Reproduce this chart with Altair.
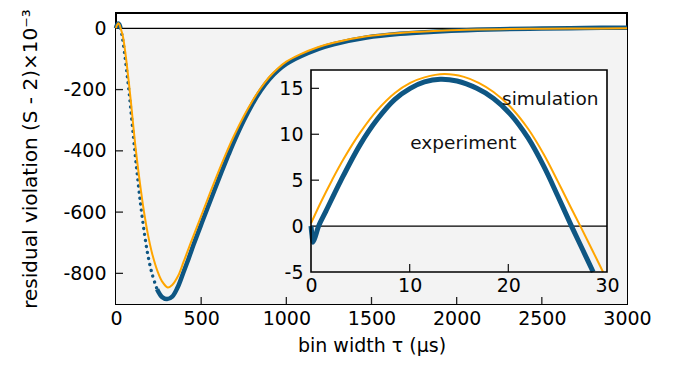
import altair as alt
import pandas as pd

# ---------------- data ----------------
# main panel: bin width tau (us) vs residual violation (x1e-3)
exp_t = [0, 5, 13, 20, 27, 36, 50, 71, 81, 110, 134, 150, 169, 187, 212, 241, 270, 300, 330,
         360, 395, 426, 456, 510, 573, 620, 661, 700, 750, 800, 850, 900, 950, 1000, 1081, 1189, 1277,
         1472, 1668, 1864, 2059, 2255, 2500, 2750, 3000]
exp_v = [0, 9, 16, 12, 0, -25, -80, -180, -232, -398, -525, -600, -678, -740, -802, -852, -877, -884, -876,
         -848, -798, -752, -705, -626, -535, -468, -412, -361, -301, -248, -203, -166, -138, -116, -92, -67, -52,
         -30, -18, -11, -6, -3, -1, 1, 2]

sim_t = [0, 5, 13.5, 20, 27.3, 40, 55, 76, 87, 116, 144, 168, 187, 212, 245, 270, 304, 330, 365, 397,
         437, 510, 554, 600, 642, 690, 750, 800, 850, 900, 950, 1000, 1081, 1189, 1277, 1472, 1668, 1864, 2059,
         2255, 2500, 2750, 3000]
sim_v = [0, 9.5, 16.5, 12.5, 0, -25, -80, -180, -238, -395, -520, -612, -672, -735, -795, -826, -846, -838, -808, -762,
         -703, -598, -535, -470, -414, -354, -287, -238, -195, -159, -131, -109, -85, -61, -47, -26, -15, -9, -5,
         -2.8, -1.2, -0.5, 0]

# inset: 0..30 us
iexp_t = [0, 0.1, 0.2, 0.45, 0.77, 1.5, 3, 5, 6.7, 8.5, 10.06, 11.5, 13.1, 14.8, 16.8, 18.5, 20.2, 22,
          23.6, 25, 26.4, 27.5, 28.6]
iexp_v = [0, -1.0, -1.75, -1.1, 0, 1.6, 4.9, 8.9, 11.6, 13.8, 15.0, 15.7, 16.0, 15.8, 15.0, 13.9, 12.2, 9.6,
          6.5, 3.3, 0, -2.5, -5]
isim_t = [0, 1, 2.13, 3.3, 5, 6.7, 8.5, 10.06, 11.5, 13.5, 15.5, 17, 18.5, 20.2, 22, 23.6, 25, 26.3,
          27.3, 28.5, 29.6]
isim_v = [0.3, 2.6, 5.0, 7.3, 10.2, 12.6, 14.5, 15.6, 16.2, 16.56, 16.25, 15.6, 14.6, 13.0, 10.6, 7.8, 4.9, 2.1,
          0, -2.6, -5]

label_text = ["simulation", "experiment"]
label_x = [24.25, 15.45]
label_y = [13.8, 9.0]

main_x_ticks = [0, 500, 1000, 1500, 2000, 2500, 3000]
main_y_ticks = [-800, -600, -400, -200, 0]
inset_x_ticks = [0, 10, 20, 30]
inset_y_ticks = [-5, 0, 5, 10, 15]

X_DOMAIN = [0, 3000]
Y_DOMAIN = [-900, 50]
IX_DOMAIN = [0, 30]
IY_DOMAIN = [-5, 17]

# ---------------- layout / style ----------------
W, H = 511, 291
IX_RANGE = [195, 491]
IY_RANGE = [259, 57]
FONT = "DejaVu Sans"
FS = 19
BLUE = "#0e5683"
ORANGE = "#ffa500"
GRAY = "#f3f3f3"
LBL = "'' + datum.value"
INTERP = "catmull-rom"

mx = alt.Scale(domain=X_DOMAIN, nice=False, zero=False)
my = alt.Scale(domain=Y_DOMAIN, nice=False, zero=False)
ix = alt.Scale(domain=IX_DOMAIN, range=IX_RANGE, nice=False, zero=False)
iy = alt.Scale(domain=IY_DOMAIN, range=IY_RANGE, nice=False, zero=False)

x_axis = alt.Axis(values=main_x_ticks, title="bin width τ (μs)", labelExpr=LBL, ticks=False, tickSize=0,
                  domain=False, grid=False, labelPadding=5, titlePadding=8, labelFlush=False,
                  labelOverlap=False, orient="bottom")
y_axis = alt.Axis(values=main_y_ticks, title="residual violation (S - 2)×10⁻³", labelExpr=LBL, ticks=False,
                  tickSize=0, domain=False, grid=False, labelPadding=10, titlePadding=22, titleFontSize=20,
                  labelFlush=False, labelOverlap=False, orient="left")
ix_axis = alt.Axis(values=inset_x_ticks, title=None, labelExpr=LBL, ticks=False, tickSize=0, domain=False,
                   grid=False, labelPadding=4, labelFlush=False, labelOverlap=False, orient="bottom",
                   offset=-(H - IY_RANGE[0]), zindex=2)
iy_axis = alt.Axis(values=inset_y_ticks, title=None, labelExpr=LBL, ticks=False, tickSize=0, domain=False,
                   grid=False, labelPadding=8, labelFlush=False, labelOverlap=False, orient="left",
                   offset=-IX_RANGE[0], zindex=2)

exp_df = pd.DataFrame({"t": exp_t, "v": exp_v})
sim_df = pd.DataFrame({"t": sim_t, "v": sim_v})
iexp_df = pd.DataFrame({"t": iexp_t, "v": iexp_v})
isim_df = pd.DataFrame({"t": isim_t, "v": isim_v})
lab_df = pd.DataFrame({"t": label_x, "v": label_y, "s": label_text})

# ---------------- main panel ----------------
bg = alt.Chart(pd.DataFrame({"x0": [X_DOMAIN[0]], "x1": [X_DOMAIN[1]], "y0": [0], "y1": [Y_DOMAIN[0]]})).mark_rect(
    color=GRAY).encode(
    x=alt.X("x0:Q", scale=mx, axis=x_axis), x2="x1:Q",
    y=alt.Y("y0:Q", scale=my, axis=y_axis), y2="y1:Q")

zero = alt.Chart(pd.DataFrame({"y": [0]})).mark_rule(color="black", strokeWidth=1.3).encode(
    y=alt.Y("y:Q", scale=my, axis=y_axis))

xt = alt.Chart(pd.DataFrame({"t": main_x_ticks[1:-1]})).mark_rule(color="#222", strokeWidth=1.3).encode(
    x=alt.X("t:Q", scale=mx, axis=x_axis), y=alt.value(H), y2=alt.value(H - 7))
yt = alt.Chart(pd.DataFrame({"v": main_y_ticks[:-1]})).mark_rule(color="#222", strokeWidth=1.3).encode(
    y=alt.Y("v:Q", scale=my, axis=y_axis), x=alt.value(0), x2=alt.value(7))

exp_solid = alt.Chart(exp_df).transform_filter("datum.t <= 27 || datum.t >= 241").transform_calculate(
    seg="datum.t <= 27 ? 'a' : 'b'").mark_line(color=BLUE, strokeWidth=4.5, interpolate=INTERP).encode(
    x=alt.X("t:Q", scale=mx, axis=x_axis), y=alt.Y("v:Q", scale=my, axis=y_axis), detail="seg:N")
exp_dot = alt.Chart(exp_df).transform_filter("datum.t >= 27 && datum.t <= 241").mark_line(
    color=BLUE, strokeWidth=3.3, strokeCap="round", strokeDash=[0.1, 6.0], interpolate=INTERP).encode(
    x=alt.X("t:Q", scale=mx, axis=x_axis), y=alt.Y("v:Q", scale=my, axis=y_axis))
sim_line = alt.Chart(sim_df).mark_line(color=ORANGE, strokeWidth=2, interpolate=INTERP).encode(
    x=alt.X("t:Q", scale=mx, axis=x_axis), y=alt.Y("v:Q", scale=my, axis=y_axis))

main = alt.layer(bg, zero, xt, yt, exp_solid, exp_dot, sim_line)

# ---------------- inset ----------------
box_df = pd.DataFrame({"x0": [IX_DOMAIN[0]], "x1": [IX_DOMAIN[1]], "y0": [IY_DOMAIN[0]], "y1": [IY_DOMAIN[1]]})
ibox = alt.Chart(box_df).mark_rect(color="white").encode(
    x=alt.X("x0:Q", scale=ix, axis=ix_axis), x2="x1:Q",
    y=alt.Y("y0:Q", scale=iy, axis=iy_axis), y2="y1:Q")
igray = alt.Chart(pd.DataFrame({"x0": [IX_DOMAIN[0]], "x1": [IX_DOMAIN[1]], "y0": [IY_DOMAIN[0]], "y1": [0]})).mark_rect(
    color=GRAY).encode(
    x=alt.X("x0:Q", scale=ix, axis=ix_axis), x2="x1:Q",
    y=alt.Y("y0:Q", scale=iy, axis=iy_axis), y2="y1:Q")
izero = alt.Chart(pd.DataFrame({"x0": [IX_DOMAIN[0]], "x1": [IX_DOMAIN[1]], "y": [0]})).mark_rule(
    color="black", strokeWidth=1.3).encode(
    x=alt.X("x0:Q", scale=ix, axis=ix_axis), x2="x1:Q", y=alt.Y("y:Q", scale=iy, axis=iy_axis))
ixt = alt.Chart(pd.DataFrame({"t": inset_x_ticks[1:-1]})).mark_rule(color="#222", strokeWidth=1.3).encode(
    x=alt.X("t:Q", scale=ix, axis=ix_axis), y=alt.value(IY_RANGE[0]), y2=alt.value(IY_RANGE[0] - 8))
iyt = alt.Chart(pd.DataFrame({"v": inset_y_ticks[2:]})).mark_rule(color="#222", strokeWidth=1.3).encode(
    y=alt.Y("v:Q", scale=iy, axis=iy_axis), x=alt.value(IX_RANGE[0]), x2=alt.value(IX_RANGE[0] + 8))
iexp = alt.Chart(iexp_df).mark_line(color=BLUE, strokeWidth=5, interpolate=INTERP).encode(
    x=alt.X("t:Q", scale=ix, axis=ix_axis), y=alt.Y("v:Q", scale=iy, axis=iy_axis))
isim = alt.Chart(isim_df).mark_line(color=ORANGE, strokeWidth=2, interpolate=INTERP).encode(
    x=alt.X("t:Q", scale=ix, axis=ix_axis), y=alt.Y("v:Q", scale=iy, axis=iy_axis))
ilab = alt.Chart(lab_df).mark_text(font=FONT, fontSize=18.5, color="#111", align="center",
                                   baseline="middle").encode(
    x=alt.X("t:Q", scale=ix, axis=ix_axis), y=alt.Y("v:Q", scale=iy, axis=iy_axis), text="s:N")
iframe = alt.Chart(box_df).mark_rect(fillOpacity=0, stroke="black", strokeWidth=1.6).encode(
    x=alt.X("x0:Q", scale=ix, axis=ix_axis), x2="x1:Q",
    y=alt.Y("y0:Q", scale=iy, axis=iy_axis), y2="y1:Q")

inset = alt.layer(ibox, igray, izero, ixt, iyt, iexp, isim, ilab, iframe)

chart = alt.layer(main, inset).resolve_scale(x="independent", y="independent").properties(
    width=W, height=H,
    autosize=alt.AutoSizeParams(type="none"),
    padding={"left": 108, "top": 5, "right": 48, "bottom": 55},
).configure_view(stroke="black", strokeWidth=2).configure_axis(
    labelFont=FONT, labelFontSize=FS, titleFont=FONT, titleFontSize=FS, labelColor="black",
    titleColor="black", titleFontWeight="normal")

chart.save("out.html", embed_options={"renderer": "svg", "actions": False})
